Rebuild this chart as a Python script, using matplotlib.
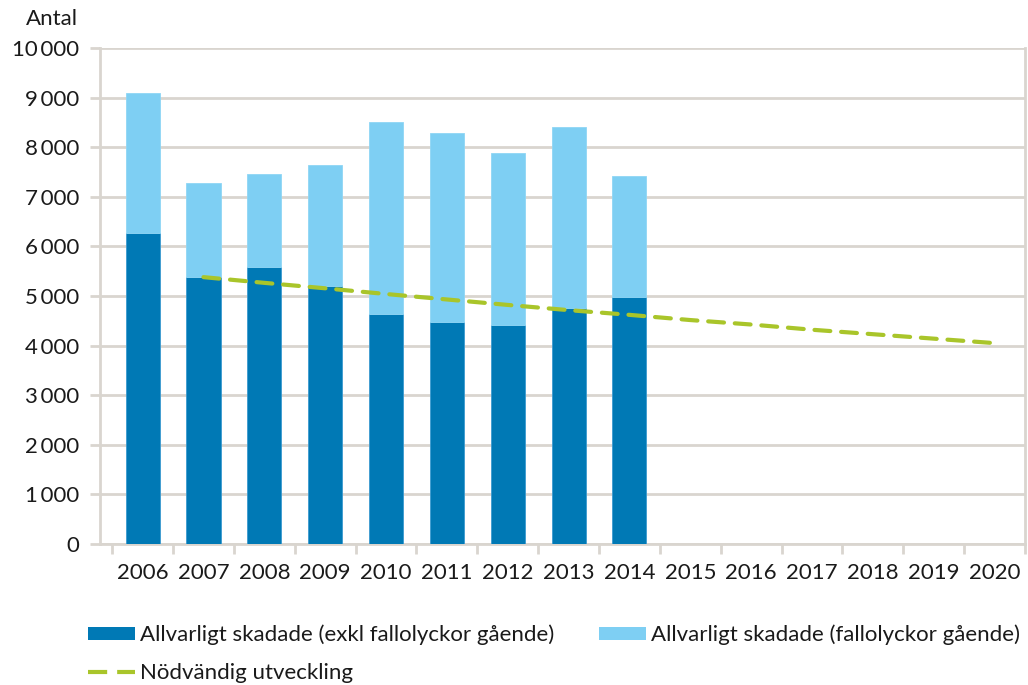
import matplotlib
matplotlib.use("Agg")
import matplotlib.pyplot as plt
import numpy as np
from matplotlib.patches import Patch
from matplotlib.lines import Line2D
from matplotlib.ticker import FixedLocator, FuncFormatter

plt.rcParams['font.family'] = ['Lato', 'DejaVu Sans']

years = ['2006', '2007', '2008', '2009', '2010', '2011', '2012', '2013', '2014',
         '2015', '2016', '2017', '2018', '2019', '2020']
bar_years = years[:9]
exkl_fall = [6270, 5380, 5590, 5200, 4630, 4480, 4420, 4750, 4980]
totals = [9100, 7280, 7450, 7640, 8510, 8290, 7880, 8410, 7420]
fall_gaende = [t - e for t, e in zip(totals, exkl_fall)]
line_years = years[1:]
nodvandig = [5380, 5265, 5155, 5040, 4930, 4820, 4715, 4620, 4515, 4425, 4320, 4230, 4140, 4050]

label_exkl = 'Allvarligt skadade (exkl fallolyckor gående)'
label_fall = 'Allvarligt skadade (fallolyckor gående)'
label_line = 'Nödvändig utveckling'

dark = '#0079b5'
light = '#7ecff3'
green = '#a9c52a'
gridc = '#d9d5cf'
txtc = '#1a1a1a'
fs = 16

fig = plt.figure(figsize=(10.28, 6.85), dpi=100)
ax = fig.add_axes([0.0973, 0.2058, 0.8997, 0.7242])

x = np.arange(len(years))
xb = x[:len(bar_years)]
ax.bar(xb, exkl_fall, width=0.56, color=dark, edgecolor='#3a9ad0', linewidth=0.6, zorder=3)
ax.bar(xb, fall_gaende, bottom=exkl_fall, width=0.56, color=light, edgecolor='#8fd6f5', linewidth=0.6, zorder=3)
xl = x[1:]
ax.plot(xl, nodvandig, color=green, linewidth=3.0, dashes=(3.8, 2.6), zorder=4,
        solid_capstyle='round', dash_capstyle='round')

ax.set_xlim(-0.7, 14.5)
ax.set_ylim(0, 10000)
ax.set_yticks(np.arange(0, 10001, 1000))
ax.yaxis.set_major_formatter(FuncFormatter(lambda v, p: f'{int(v):,}'.replace(',', '\u2009')))
ax.grid(axis='y', color=gridc, linewidth=2, zorder=0)
ax.set_axisbelow(True)

ax.xaxis.set_major_locator(FixedLocator(np.arange(-0.5, 14.6, 1)))
ax.xaxis.set_major_formatter(FuncFormatter(lambda v, p: ''))
ax.xaxis.set_minor_locator(FixedLocator(x))
ax.set_xticklabels(years, minor=True)
ax.tick_params(axis='x', which='major', length=7, width=2, color=gridc)
ax.tick_params(axis='x', which='minor', length=0, pad=14, labelsize=fs, labelcolor=txtc)
ax.tick_params(axis='y', length=7, width=2, color=gridc, pad=8, labelsize=fs, labelcolor=txtc)

for s in ['left', 'bottom', 'right']:
    ax.spines[s].set_color(gridc)
    ax.spines[s].set_linewidth(2)
ax.spines['top'].set_visible(False)

fig.text(0.0759, 0.972, 'Antal', ha='right', va='center', fontsize=fs, color=txtc)

handles = [Patch(facecolor=dark, edgecolor='none'),
           Line2D([0], [0], color=green, linewidth=3, dashes=(4.6, 2.4)),
           Patch(facecolor=light, edgecolor='none')]
labels = [label_exkl, label_line, label_fall]
leg = fig.legend(handles, labels, ncol=2, loc='upper left', bbox_to_anchor=(0.0856, 0.088),
                 frameon=False, fontsize=fs, handlelength=2.1, handleheight=0.5,
                 handletextpad=0.25, columnspacing=2.0, labelspacing=0.78, borderaxespad=0,
                 borderpad=0)
for t in leg.get_texts():
    t.set_color(txtc)

fig.savefig('out.png', dpi=100)
